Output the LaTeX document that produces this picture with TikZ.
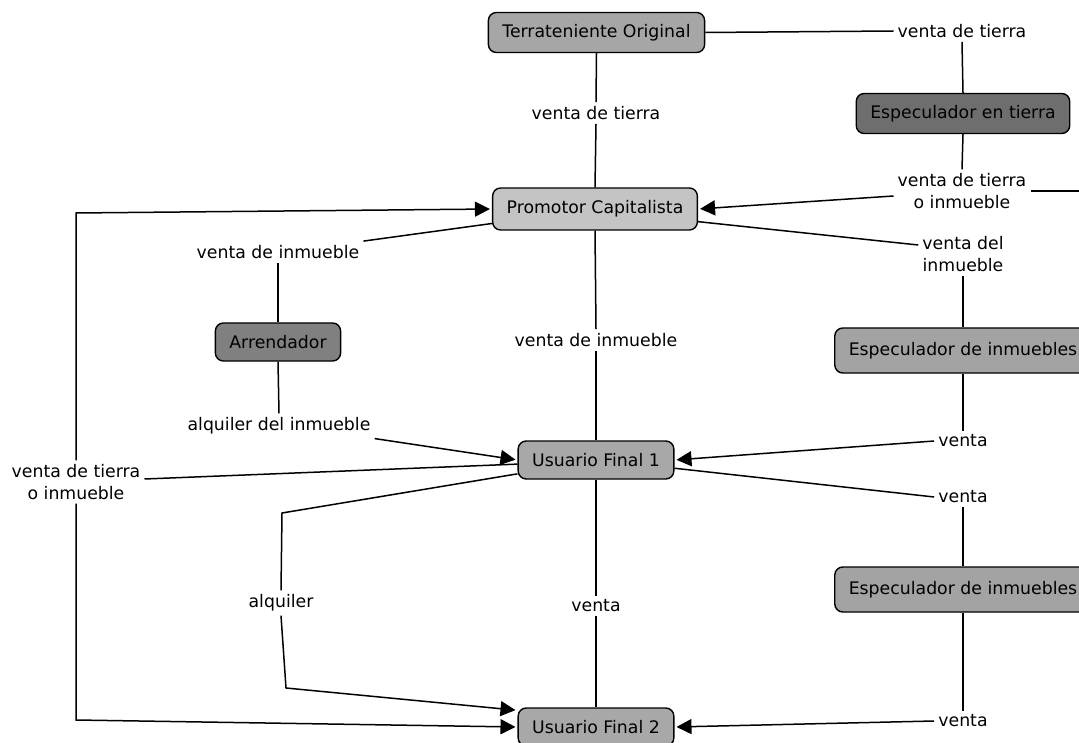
\documentclass[tikz,border=0pt]{standalone}
\usepackage{fontspec}
\setmainfont{DejaVu Sans}
\usetikzlibrary{arrows.meta,calc}
\definecolor{gT}{HTML}{A6A6A6}
\definecolor{gET}{HTML}{6E6E6E}
\definecolor{gP}{HTML}{C4C4C4}
\definecolor{gA}{HTML}{808080}
\definecolor{gEI}{HTML}{A3A3A3}
\definecolor{gU}{HTML}{A8A8A8}
\begin{document}
\begin{tikzpicture}[x=1pt,y=-1pt,
  every node/.style={font=\fontsize{17.3}{21.5}\selectfont},
  box/.style={draw=black,line width=1.4pt,rounded corners=8pt,inner xsep=14pt,inner ysep=0pt,minimum height=40pt},
  lbl/.style={inner sep=4pt,align=center},
  con/.style={line width=1.5pt},
  arr/.style={con,shorten >=2pt,-{Triangle[length=15pt,width=15pt]}}]
\useasboundingbox (0,0) rectangle (1079,743);
\fill[white] (0,0) rectangle (1079,743);
\clip (0,0) rectangle (1079,743);

% concept nodes
\node[box,fill=gT] (T) at (596.5,32.5) {Terrateniente Original};
\node[box,fill=gET] (ET) at (963,113.5) {Especulador en tierra};
\node[box,fill=gP,minimum height=42pt] (P) at (595,209) {Promotor Capitalista};
\node[box,fill=gA,minimum height=38pt] (A) at (278,342) {Arrendador};
\node[box,fill=gEI,minimum height=45pt] (EI1) at (963,350.5) {Especulador de inmuebles};
\node[box,fill=gU,minimum height=38pt] (U1) at (596,460) {Usuario Final 1};
\node[box,fill=gEI,minimum height=45pt] (EI2) at (963,589.5) {Especulador de inmuebles};
\node[box,fill=gU,minimum height=38pt] (U2) at (596,727) {Usuario Final 2};

% linking phrases
\node[lbl] (L1) at (962,31) {venta de tierra};
\node[lbl] (L2) at (596,113) {venta de tierra};
\node[lbl] (L3) at (962,191) {venta de tierra\\o inmueble};
\node[lbl] (L4) at (278,252) {venta de inmueble};
\node[lbl] (L5) at (279,426) {alquiler del inmueble};
\node[lbl] (L6) at (596,340) {venta de inmueble};
\node[lbl] (L7) at (963,254) {venta del\\inmueble};
\node[lbl] (L8) at (963,441) {venta};
\node[lbl] (L9) at (76,482) {venta de tierra\\o inmueble};
\node[lbl] (L10) at (963,497) {venta};
\node[lbl] (L11) at (281,603) {alquiler};
\node[lbl] (L12) at (596,606) {venta};
\node[lbl] (L13) at (963,721) {venta};

% helper coordinates
\coordinate (off3) at (1090,191);
\coordinate (c1) at (76,213);
\coordinate (c2) at (76,720);
\coordinate (c3) at (282,513);
\coordinate (c4) at (286,688);

% connectors
\draw[con] (T.east) -- (L1.west);
\draw[con] (L1.south) -- (ET.north);
\draw[con] (T.south) -- (L2.north);
\draw[con] (L2.south) -- (P.north);
\draw[con] (ET.south) -- (L3.north);
\draw[arr] ($(L3.west)+(0,5)$) -- (P.east);
\draw[con] (L3.east) -- (off3);
\draw[con] (P.188) -- (L4.north east);
\draw[con] (L4.south) -- (A.north);
\draw[con] (A.south) -- (L5.north);
\draw[arr] (L5.south east) -- (U1.west);
\draw[con] (P.south) -- (L6.north);
\draw[con] (L6.south) -- (U1.north);
\draw[con] (P.-7) -- ($(L7.west)+(0,-9)$);
\draw[con] (L7.south) -- (EI1.north);
\draw[con] (EI1.south) -- (L8.north);
\draw[arr] (L8.west) -- (U1.east);
\draw[con] (U1.183) -- ($(L9.east)+(0,-3)$);
\draw[arr] (L9.north) -- (c1) -- (P.west);
\draw[arr] (L9.south) -- (c2) -- (U2.west);
\draw[con] (U1.-6) -- (L10.west);
\draw[con] (L10.south) -- (EI2.north);
\draw[con] (EI2.south) -- (L13.north);
\draw[arr] (L13.west) -- (U2.east);
\draw[con] (U1.190) -- (c3) -- (L11.north);
\draw[arr] (L11.south) -- (c4) -- (U2.168);
\draw[con] (U1.south) -- (L12.north);
\draw[con] (L12.south) -- (U2.north);
\end{tikzpicture}
\end{document}
